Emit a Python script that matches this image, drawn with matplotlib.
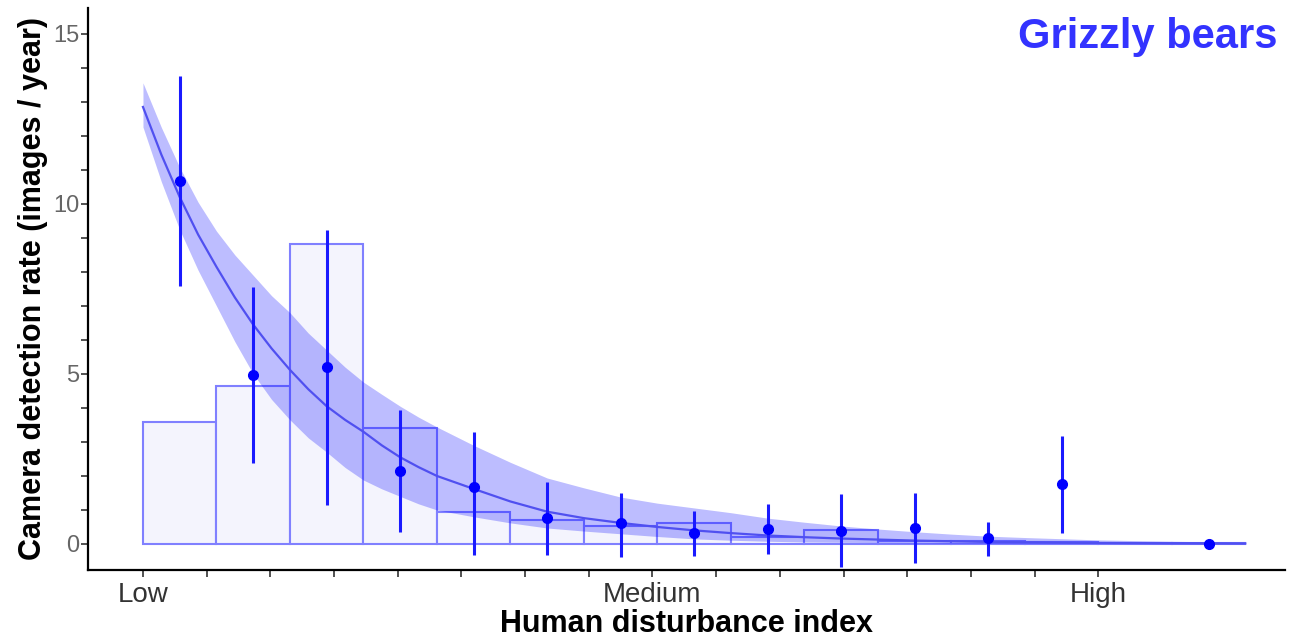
#!/usr/bin/env python3

import numpy as np
import matplotlib
matplotlib.use('Agg')
import matplotlib.pyplot as plt

plt.rcParams['font.family'] = ['Liberation Sans', 'DejaVu Sans']

# histogram of sites along the disturbance gradient (15 equal bins)
bin_edges = np.arange(0, 16)
bar_heights = [3.59, 4.65, 8.82, 3.41, 0.93, 0.71, 0.53, 0.62, 0.20, 0.40,
               0.10, 0.10, 0.05, 0.03, 0.02]

# mean detection rate per bin, with error bars (bin 13 has no point)
pt_bins = [0, 1, 2, 3, 4, 5, 6, 7, 8, 9, 10, 11, 12, 14]
pt_mean = [10.68, 4.97, 5.20, 2.15, 1.68, 0.76, 0.62, 0.32, 0.44, 0.38, 0.47, 0.18, 1.76, 0.0]
pt_low = [7.59, 2.38, 1.15, 0.35, -0.32, -0.32, -0.38, -0.35, -0.29, -0.68, -0.56, -0.35, 0.32, 0.0]
pt_high = [13.76, 7.56, 9.24, 3.94, 3.29, 1.82, 1.50, 0.97, 1.18, 1.47, 1.50, 0.65, 3.18, 0.0]

# fitted model and its confidence band
fit_x = [0, 0.25, 0.5, 0.75, 1.0, 1.25, 1.5, 1.75, 2.0, 2.25, 2.5, 2.75, 3.0, 3.25, 3.5, 3.75,
         4.0, 4.5, 5.0, 5.5, 6.0, 6.5, 7.0, 7.5, 8.0, 8.5, 9.0, 9.5, 10.0, 10.5, 11.0, 11.5,
         12.0, 13.0, 14.0, 15.0]
fit_y = [12.85, 11.45, 10.2, 9.10, 8.15, 7.25, 6.45, 5.75, 5.12, 4.55, 4.05, 3.65, 3.30, 2.90,
         2.55, 2.26, 2.00, 1.62, 1.25, 0.95, 0.76, 0.62, 0.50, 0.40, 0.32, 0.25, 0.20, 0.16,
         0.13, 0.10, 0.08, 0.06, 0.05, 0.03, 0.02, 0.015]
fit_hi = [13.56, 12.25, 11.07, 10.05, 9.20, 8.50, 7.90, 7.30, 6.80, 6.20, 5.70, 5.20, 4.76, 4.40,
          4.05, 3.73, 3.44, 2.90, 2.40, 1.94, 1.65, 1.38, 1.20, 1.06, 0.92, 0.76, 0.64, 0.53,
          0.44, 0.36, 0.29, 0.23, 0.19, 0.12, 0.08, 0.05]
fit_lo = [12.26, 10.65, 9.24, 8.05, 7.00, 5.95, 5.00, 4.25, 3.65, 3.12, 2.70, 2.25, 1.88, 1.62,
          1.40, 1.18, 1.00, 0.80, 0.62, 0.47, 0.38, 0.30, 0.22, 0.15, 0.11, 0.08, 0.06, 0.05,
          0.04, 0.03, 0.02, 0.015, 0.01, 0.01, 0.005, 0.003]

# x axis: 16 evenly spaced ticks, only three labelled
tick_labels = ['Low', '', '', '', '', '', '', '', 'Medium', '', '', '', '', '', '', 'High']
tick_pos = np.linspace(0, 13, 16)

fig = plt.figure(figsize=(13.02, 6.40), dpi=100)
ax = fig.add_axes([88 / 1302, 1 - 570 / 640, (1285 - 88) / 1302, (570 - 8) / 640])

widths = np.diff(bin_edges)
ax.bar(bin_edges[:-1], bar_heights, width=widths, align='edge',
       color='#f4f4fd', edgecolor='#8080ff', linewidth=1.5, zorder=1)

ax.fill_between(fit_x, fit_lo, fit_hi, color='#0000ff', alpha=0.26, linewidth=0, zorder=2)
ax.plot(fit_x, fit_y, color='#5050f0', linewidth=1.6, zorder=3)

pt_x = np.array(pt_bins) + 0.5
mean = np.array(pt_mean)
yerr = [mean - np.array(pt_low), np.array(pt_high) - mean]
ax.errorbar(pt_x, mean, yerr=yerr, fmt='o', color='#0000ff', ecolor='#1a1aff',
            elinewidth=2.2, capsize=0, markersize=7, zorder=4)

ax.set_xlim(-0.748, 15.54)
ax.set_ylim(-0.765, 15.76)

ax.set_xticks(tick_pos)
ax.set_xticklabels(tick_labels)
ax.set_yticks(np.arange(0, 16))
ax.set_yticklabels([str(v) if v % 5 == 0 else '' for v in range(16)])

ax.tick_params(axis='x', length=5, width=1.2, color='#333333', pad=4,
               labelsize=20, labelcolor='#333333')
ax.tick_params(axis='y', length=5, width=1.2, color='#333333', pad=1,
               labelsize=17, labelcolor='#666666')

for side in ['top', 'right']:
    ax.spines[side].set_visible(False)
for side in ['left', 'bottom']:
    ax.spines[side].set_linewidth(1.6)
    ax.spines[side].set_color('black')

ax.set_xlabel('Human disturbance index', fontsize=22, fontweight='bold', labelpad=0.5)
ax.set_ylabel('Camera detection rate (images / year)', fontsize=22, fontweight='bold', labelpad=4)

fig.text(1277 / 1302, 1 - 17 / 640, 'Grizzly bears', color='#3333ff', fontsize=30,
         fontweight='bold', ha='right', va='top')

plt.savefig('out.png', dpi=100)
